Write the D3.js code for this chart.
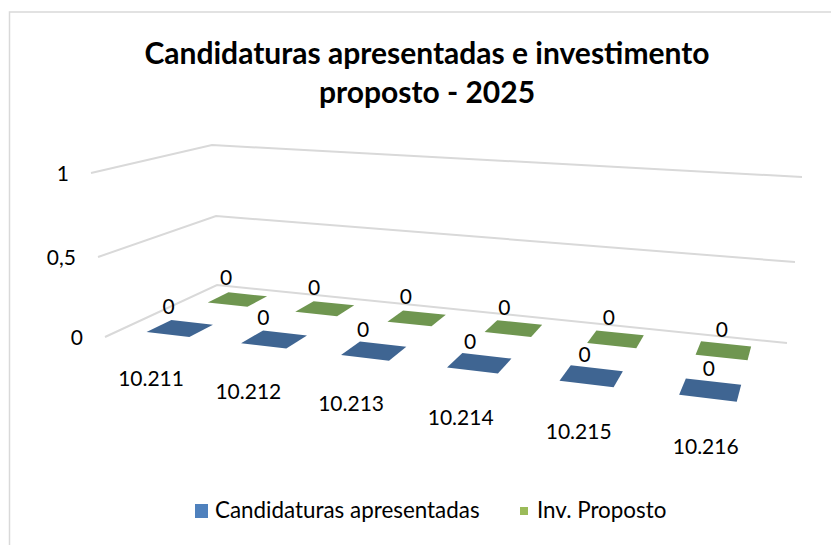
<!DOCTYPE html>
<html>
<head>
<meta charset="utf-8">
<title>Candidaturas apresentadas e investimento proposto - 2025</title>
<script src="https://cdnjs.cloudflare.com/ajax/libs/d3/7.8.5/d3.min.js"></script>
<style>
  html, body { margin: 0; padding: 0; background: #fff; }
  svg { display: block; }
  text { font-family: Lato, "Open Sans", sans-serif; fill: #000; }
</style>
</head>
<body>
<div id="chart"></div>
<script>
// chart values
var categories = ["10.211", "10.212", "10.213", "10.214", "10.215", "10.216"];
var candidaturas = [0, 0, 0, 0, 0, 0];
var invProposto = [0, 0, 0, 0, 0, 0];
var seriesNames = ["Candidaturas apresentadas", "Inv. Proposto"];
var yTicks = [0, 0.5, 1];
var yTickLabels = ["0", "0,5", "1"];
var titleLines = ["Candidaturas apresentadas e investimento", "proposto - 2025"];

var width = 831, height = 545;

var svg = d3.select("#chart").append("svg")
  .attr("width", width)
  .attr("height", height);

// frame (only top and left show in the picture)
svg.append("path")
  .attr("d", "M9.5,545V12H831")
  .attr("fill", "none")
  .attr("stroke", "#d9d9d9")
  .attr("stroke-width", 1.5);

// TITLE
svg.selectAll("text.title")
  .data(titleLines)
  .enter().append("text")
  .attr("class", "title")
  .attr("x", 427)
  .attr("y", function(d, i) { return 64 + i * 39; })
  .attr("text-anchor", "middle")
  .attr("font-size", 30)
  .attr("font-weight", 700)
  .text(function(d) { return d; });

// 3D floor: maps (u along categories, s depth) to the screen
var floorQuad = [[105, 337], [775, 418], [787, 343], [217, 285]];
var toFloor = squareToQuad(floorQuad);

function squareToQuad(q) {
  var dx1 = q[1][0] - q[2][0], dx2 = q[3][0] - q[2][0], sx = q[0][0] - q[1][0] + q[2][0] - q[3][0];
  var dy1 = q[1][1] - q[2][1], dy2 = q[3][1] - q[2][1], sy = q[0][1] - q[1][1] + q[2][1] - q[3][1];
  var den = dx1 * dy2 - dx2 * dy1;
  var g = (sx * dy2 - dx2 * sy) / den;
  var h = (dx1 * sy - sx * dy1) / den;
  var a = q[1][0] - q[0][0] + g * q[1][0], b = q[3][0] - q[0][0] + h * q[3][0], c = q[0][0];
  var d = q[1][1] - q[0][1] + g * q[1][1], e = q[3][1] - q[0][1] + h * q[3][1], f = q[0][1];
  return function(u, s) {
    var w = g * u + h * s + 1;
    return [(a * u + b * s + c) / w, (d * u + e * s + f) / w];
  };
}

// wall corners at each tick value
var yFL = d3.scaleLinear().domain(yTicks).range([337, 257, 173]);
var xFL = d3.scaleLinear().domain(yTicks).range([105, 98, 91]);
var yBL = d3.scaleLinear().domain(yTicks).range([285, 216, 145]);
var xBL = d3.scaleLinear().domain(yTicks).range([217, 216, 212]);
var yBR = d3.scaleLinear().domain(yTicks).range([343, 262, 177]);
var xBR = d3.scaleLinear().domain(yTicks).range([787, 795, 802]);

var line = d3.line();

// GRIDLINES
svg.selectAll("path.grid")
  .data(yTicks)
  .enter().append("path")
  .attr("class", "grid")
  .attr("d", function(v) {
    return line([[xFL(v), yFL(v)], [xBL(v), yBL(v)], [xBR(v), yBR(v)]]);
  })
  .attr("fill", "none")
  .attr("stroke", "#d9d9d9")
  .attr("stroke-width", 2);

// y axis labels
svg.selectAll("text.ytick")
  .data(yTicks)
  .enter().append("text")
  .attr("class", "ytick")
  .attr("x", function(v) { return xFL(v) - 22; })
  .attr("y", function(v) { return yFL(v) + 8; })
  .attr("text-anchor", "end")
  .attr("font-size", 21)
  .text(function(v, i) { return yTickLabels[i]; });

// BARS
var uScale = d3.scaleBand().domain(categories).range([0, 0.993]).paddingInner(0.54).paddingOuter(0.27);
var sScale = d3.scaleBand().domain(seriesNames).range([0.131, 0.888]).paddingInner(0.616);
var seriesColors = ["#3f6592", "#6f9650"];
var legendColors = ["#4f81bd", "#9bbb59"];
var seriesValues = [candidaturas, invProposto];
var vScale = d3.scaleLinear().domain([0, 1]).range([0, 164]);

// label offsets drift along the categories because of the perspective
var catIndex = d3.range(categories.length);
var valueDx = d3.scaleLinear().domain(catIndex).range([-11.5, -11, -11, -9.5, -7, -2]);
var catDx = d3.scaleLinear().domain(catIndex).range([-29, -26, -23, -19, -13, -5]);
var catDy = d3.scaleLinear().domain([0, 5]).range([51, 57]);

function barTop(cat, si, v) {
  var u0 = uScale(cat), u1 = u0 + uScale.bandwidth();
  var s0 = sScale(seriesNames[si]), s1 = s0 + sScale.bandwidth();
  return [[u0, s0], [u1, s0], [u1, s1], [u0, s1]].map(function(p) {
    var q = toFloor(p[0], p[1]);
    return [q[0], q[1] - vScale(v)];
  });
}

function center(pts) {
  return [d3.mean(pts, function(p) { return p[0]; }), d3.mean(pts, function(p) { return p[1]; })];
}

seriesNames.slice().reverse().forEach(function(name) {
  var si = seriesNames.indexOf(name);
  var g = svg.append("g").attr("class", "series");
  categories.forEach(function(cat, i) {
    var pts = barTop(cat, si, seriesValues[si][i]);
    g.append("path")
      .attr("d", line(pts) + "Z")
      .attr("fill", seriesColors[si]);
    var c = center(pts);
    g.append("text")
      .attr("x", c[0] + valueDx(i))
      .attr("y", c[1] - 21 + 7)
      .attr("text-anchor", "middle")
      .attr("font-size", 21)
      .text(seriesValues[si][i]);
  });
});

// category labels
svg.selectAll("text.cat")
  .data(categories)
  .enter().append("text")
  .attr("class", "cat")
  .attr("x", function(d, i) { return center(barTop(d, 0, 0))[0] + catDx(i); })
  .attr("y", function(d, i) { return center(barTop(d, 0, 0))[1] + catDy(i) + 7; })
  .attr("text-anchor", "middle")
  .attr("font-size", 21)
  .text(function(d) { return d; });

// LEGEND
var legendItems = [
  { x: 195, y: 504, w: 13, h: 14, tx: 215 },
  { x: 520, y: 507, w: 8, h: 8, tx: 537 }
];
var legend = svg.selectAll("g.legend")
  .data(legendItems)
  .enter().append("g")
  .attr("class", "legend");

legend.append("rect")
  .attr("x", function(d) { return d.x; })
  .attr("y", function(d) { return d.y; })
  .attr("width", function(d) { return d.w; })
  .attr("height", function(d) { return d.h; })
  .attr("fill", function(d, i) { return legendColors[i]; });

legend.append("text")
  .attr("x", function(d) { return d.tx; })
  .attr("y", 518)
  .attr("font-size", 22.4)
  .text(function(d, i) { return seriesNames[i]; });
</script>
</body>
</html>
